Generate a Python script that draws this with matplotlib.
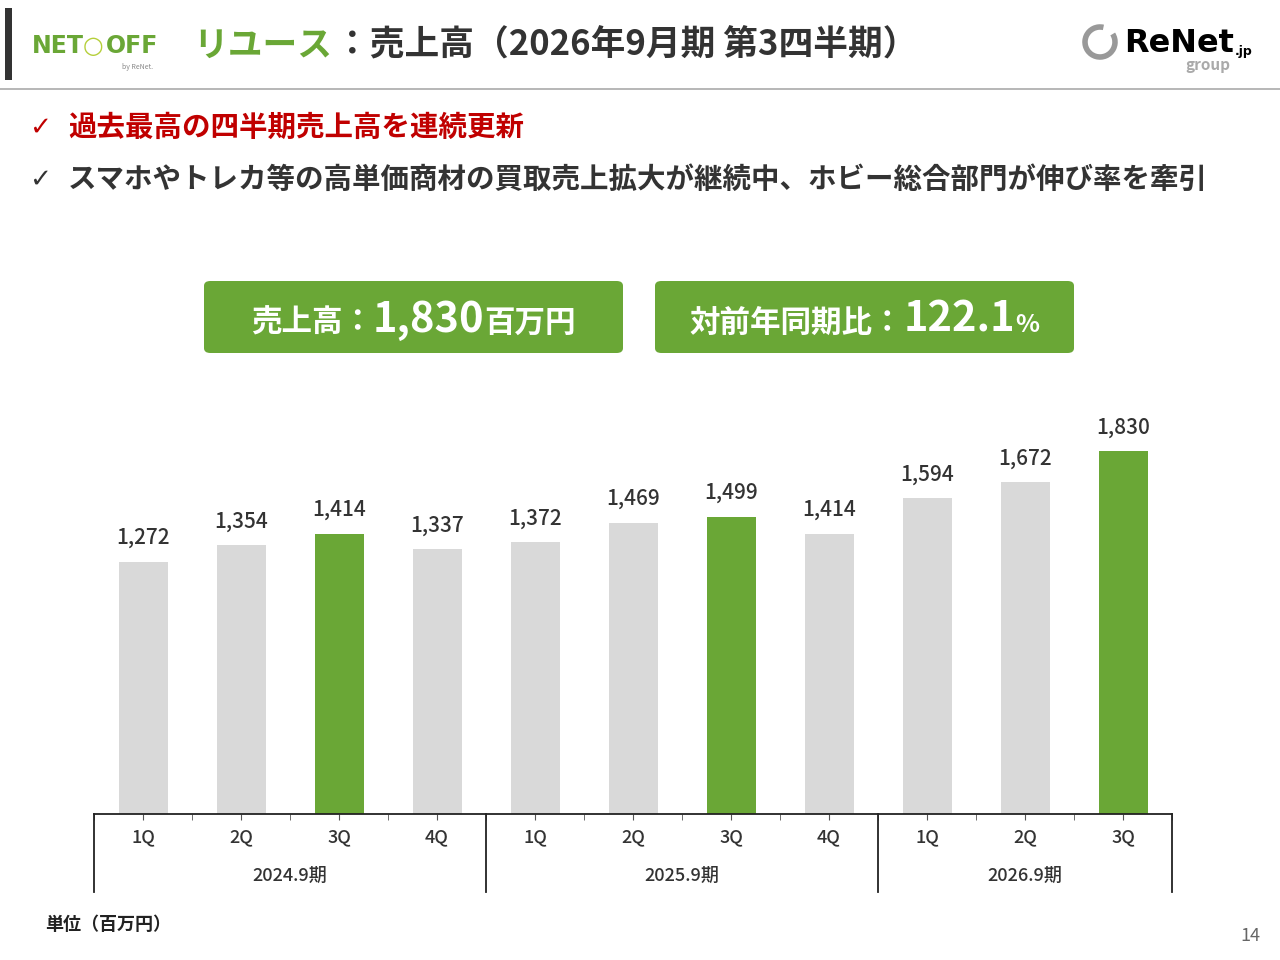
#!/usr/bin/env python3

import matplotlib
matplotlib.use('Agg')
import matplotlib.pyplot as plt
from matplotlib.patches import FancyBboxPatch, Arc, Rectangle
from matplotlib.transforms import blended_transform_factory
import numpy as np

plt.rcParams['font.family'] = ['Noto Sans CJK JP', 'DejaVu Sans']

# data
quarters = ['1Q', '2Q', '3Q', '4Q', '1Q', '2Q', '3Q', '4Q', '1Q', '2Q', '3Q']
sales = [1272, 1354, 1414, 1337, 1372, 1469, 1499, 1414, 1594, 1672, 1830]
highlight = [False, False, True, False, False, False, True, False, False, False, True]
periods = ['2024.9期', '2025.9期', '2026.9期']
period_sizes = [4, 4, 3]

GREEN = '#6aa736'
GREY = '#d9d9d9'
DARK = '#333333'
W, H = 1280, 960


def fx(px):
    return px / W


def fy(py):
    return 1 - py / H


fig = plt.figure(figsize=(12.8, 9.6), dpi=100)
fig.patch.set_facecolor('white')

# header
fig.add_artist(Rectangle((fx(5), fy(80)), fx(7), 72 / H, transform=fig.transFigure,
                         color='#333333', lw=0))
fig.add_artist(plt.Line2D([0, 1], [fy(89), fy(89)], transform=fig.transFigure,
                          color='#aaaaaa', lw=1.2))
fig.text(fx(32), fy(46), 'NET', color=GREEN, fontsize=17, fontweight='black',
         family='DejaVu Sans', va='center', ha='left')
fig.text(fx(93), fy(46), '○', color='#b5cf3a', fontsize=17, fontweight='bold',
         family='DejaVu Sans', va='center', ha='center')
fig.text(fx(106), fy(46), 'OFF', color=GREEN, fontsize=17, fontweight='black',
         family='DejaVu Sans', va='center', ha='left')
fig.text(fx(153), fy(67), 'by ReNet.', color='#888888', fontsize=5,
         va='center', ha='right')

fig.text(fx(193), fy(45), 'リユース', color=GREEN, fontsize=25, fontweight='bold',
         va='center', ha='left')
fig.text(fx(335), fy(45), '：売上高（2026年9月期 第3四半期）', color=DARK, fontsize=25,
         fontweight='bold', va='center', ha='left')

# ReNet logo
fig.add_artist(Arc((fx(1100), fy(42)), 30 / W, 30 / H, theta1=80, theta2=400,
                   transform=fig.transFigure, color='#999999', lw=4))
fig.text(fx(1124), fy(43), 'ReNet', color='black', fontsize=23, fontweight='black',
         family='DejaVu Sans', va='center', ha='left')
fig.text(fx(1235), fy(51), '.jp', color='black', fontsize=9, fontweight='bold',
         family='DejaVu Sans', va='center', ha='left')
fig.text(fx(1208), fy(65), 'group', color='#aaaaaa', fontsize=11, fontweight='bold',
         va='center', ha='center')

# bullets
fig.text(fx(29), fy(128), '✓', color='#c00000', fontsize=19, va='center', ha='left',
         family=['DejaVu Sans'])
fig.text(fx(68), fy(128), '過去最高の四半期売上高を連続更新', color='#c00000', fontsize=20.5,
         fontweight='bold', va='center', ha='left')
fig.text(fx(29), fy(180), '✓', color=DARK, fontsize=19, va='center', ha='left',
         family=['DejaVu Sans'])
fig.text(fx(68), fy(180), 'スマホやトレカ等の高単価商材の買取売上拡大が継続中、ホビー総合部門が伸び率を牽引',
         color=DARK, fontsize=20.5, fontweight='bold', va='center', ha='left')


# KPI boxes
def kpi_box(x0, x1, parts):
    fig.add_artist(FancyBboxPatch((fx(x0), fy(353)), (x1 - x0) / W, 72 / H,
                                  boxstyle='round,pad=0,rounding_size=0.005',
                                  transform=fig.transFigure, color=GREEN, lw=0))
    renderer = fig.canvas.get_renderer()
    texts = []
    total = 0
    for s, size in parts:
        t = fig.text(0, fy(332), s, color='white', fontsize=size, fontweight='bold',
                     va='baseline', ha='left')
        w = t.get_window_extent(renderer).width
        texts.append((t, w))
        total += w
    x = (x0 + x1) / 2 - total / 2
    for t, w in texts:
        t.set_x(fx(x))
        x += w


kpi_box(204, 623, [('売上高：', 22), ('1,830', 30), ('百万円', 22)])
kpi_box(655, 1074, [('対前年同期比：', 22), ('122.1', 30), ('%', 18)])

# chart
ymax = 2000
px_per_unit = 363 / 1830
ax_top = 814 - ymax * px_per_unit
ax = fig.add_axes([fx(94), fy(814), (1172 - 94) / W, (814 - ax_top) / H])
x = np.arange(len(sales))
colors = [GREEN if h else GREY for h in highlight]
bars = ax.bar(x, sales, width=0.5, color=colors)
for xi, v in zip(x, sales):
    ax.annotate(f'{v:,}', (xi, v), xytext=(0, 9), textcoords='offset points',
                ha='center', va='bottom', fontsize=15, color=DARK,
                fontweight='medium')

ax.set_xlim(-0.5, len(sales) - 0.5)
ax.set_ylim(0, ymax)
for s in ['left', 'right', 'top']:
    ax.spines[s].set_visible(False)
ax.spines['bottom'].set_color('#222222')
ax.spines['bottom'].set_linewidth(1.3)
ax.set_yticks([])
ax.set_xticks(x)
ax.set_xticklabels(quarters, fontsize=13, color=DARK, fontweight='medium')
ax.set_xticks(np.arange(len(sales) + 1) - 0.5, minor=True)
ax.tick_params(axis='x', which='both', length=4, color='#555555', pad=6)

trans = blended_transform_factory(ax.transData, fig.transFigure)
edges = np.concatenate([[0], np.cumsum(period_sizes)]) - 0.5
for e in edges:
    ax.plot([e, e], [fy(814), fy(892)], transform=trans, color='#222222', lw=1.3,
            clip_on=False)
for i, p in enumerate(periods):
    ax.text((edges[i] + edges[i + 1]) / 2, fy(876), p, transform=trans,
            ha='center', va='center', fontsize=13, color=DARK, fontweight='medium')

fig.text(fx(45), fy(925), '単位（百万円）', color='#222222', fontsize=13,
         fontweight='bold', va='center', ha='left')
fig.text(fx(1260), fy(936), '14', color='#666666', fontsize=13, va='center',
         ha='right')

plt.savefig('out.png', dpi=100)
